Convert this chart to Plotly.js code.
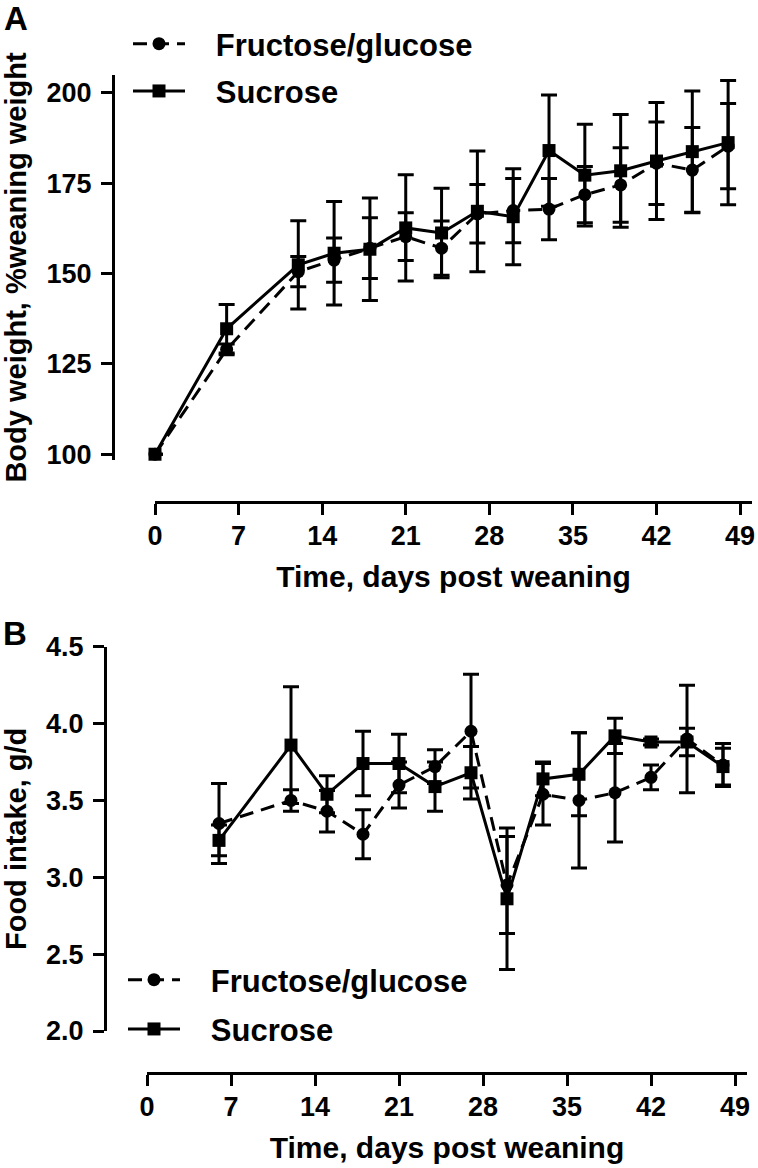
<!DOCTYPE html>
<html>
<head>
<meta charset="utf-8">
<script src="https://cdn.plot.ly/plotly-3.0.1.min.js"></script>
<style>html,body{margin:0;padding:0;background:#fff;}#chart{width:758px;height:1168px;}</style>
</head>
<body>
<div id="chart"></div>
<script>
// ---- Panel A: body weight (% of weaning weight) ----
var daysA = [0, 6, 12, 15, 18, 21, 24, 27, 30, 33, 36, 39, 42, 45, 48];
var fgWeight    = [100, 129.0, 150.5, 153.7, 157.0, 160.2, 157.0, 166.5, 167.4, 167.8, 171.8, 174.5, 180.5, 178.6, 185.2];
var fgWeightErr = [0,   1.5,   4.2,   6.1,   8.4,   6.6,   7.5,   8.1,   8.9,   8.5,   7.8,   10.3,  11.4,  11.8,  11.8];
var sucWeight    = [100, 134.7, 152.4, 155.6, 156.7, 162.6, 161.2, 167.2, 165.7, 184.0, 177.2, 178.4, 181.1, 183.7, 186.2];
var sucWeightErr = [0,   6.7,   12.2,  14.3,  14.2,  14.7,  12.4,  16.7,  13.3,  15.4,  14.1,  15.6,  16.2,  16.8,  17.2];

// ---- Panel B: food intake (g/d) ----
var daysB = [6, 12, 15, 18, 21, 24, 27, 30, 33, 36, 39, 42, 45, 48];
var fgIntake    = [3.35, 3.50, 3.43, 3.28, 3.60, 3.72, 3.95, 2.95, 3.54, 3.50, 3.55, 3.65, 3.90, 3.73];
var fgIntakeErr = [0.26, 0.07, 0.135, 0.16, 0.15, 0.11, 0.37, 0.315, 0.20, 0.44, 0.32, 0.08, 0.35, 0.14];
var sucIntake    = [3.24, 3.86, 3.54, 3.74, 3.74, 3.59, 3.68, 2.86, 3.64, 3.67, 3.92, 3.88, 3.88, 3.72];
var sucIntakeErr = [0.10, 0.38, 0.12, 0.21, 0.19, 0.16, 0.17, 0.46, 0.11, 0.27, 0.115, 0.02, 0.09, 0.12];

// ---- ticks and labels ----
var xTicks = [0, 7, 14, 21, 28, 35, 42, 49];
var yTicksA = [100, 125, 150, 175, 200];
var yTicksB = [2.0, 2.5, 3.0, 3.5, 4.0, 4.5];
var seriesNames = ['Fructose/glucose', 'Sucrose'];
var xTitle = 'Time, days post weaning';
var yTitleA = 'Body weight, %weaning weight';
var yTitleB = 'Food intake, g/d';

var W = 758, H = 1168;
function px(x) { return x / W; }
function py(y) { return 1 - y / H; }

var FONT = 'Liberation Sans, Arial, Helvetica, sans-serif';
var dashFG = '14px,8px';
var LEGPAD = '\u00a0\u00a0\u00a0';

function trace(x, y, err, name, isFG, xa, ya, leg) {
  return {
    x: x, y: y, name: LEGPAD + name, type: 'scatter', mode: 'lines+markers',
    xaxis: xa, yaxis: ya, legend: leg, legendgroup: leg + name,
    cliponaxis: false,
    line: {color: '#000', width: 3, dash: isFG ? dashFG : 'solid'},
    marker: {symbol: isFG ? 'circle' : 'square', size: 13, color: '#000'},
    error_y: {type: 'data', array: err, visible: true, color: '#000', thickness: 3, width: 8}
  };
}

var data = [
  trace(daysA, fgWeight, fgWeightErr, seriesNames[0], true, 'x', 'y', 'legend'),
  trace(daysA, sucWeight, sucWeightErr, seriesNames[1], false, 'x', 'y', 'legend'),
  trace(daysB, fgIntake, fgIntakeErr, seriesNames[0], true, 'x2', 'y2', 'legend2'),
  trace(daysB, sucIntake, sucIntakeErr, seriesNames[1], false, 'x2', 'y2', 'legend2')
];

var tickFont = {family: FONT, size: 27, color: '#000', weight: 'bold'};
var xTitleFont = {family: FONT, size: 30, color: '#000', weight: 'bold'};
var yTitleFont = {family: FONT, size: 29, color: '#000', weight: 'bold'};

function xAxis(domain, pos) {
  return {
    domain: domain, anchor: 'free', position: pos, range: [0, 50],
    tickvals: xTicks, ticktext: xTicks.map(String),
    showgrid: false, zeroline: false, showline: true, linecolor: '#000', linewidth: 3,
    ticks: 'outside', ticklen: 11, tickwidth: 3, tickcolor: '#000',
    tickfont: tickFont, ticklabelstandoff: -2,
    title: {text: xTitle, font: xTitleFont, standoff: 15}
  };
}
function yAxis(domain, pos, range, ticks, fmt, title) {
  return {
    domain: domain, anchor: 'free', position: pos, range: range,
    tickvals: ticks, tickformat: fmt,
    showgrid: false, zeroline: false, showline: true, linecolor: '#000', linewidth: 3,
    ticks: 'outside', ticklen: 11, tickwidth: 3, tickcolor: '#000',
    tickfont: tickFont, ticklabelstandoff: 4,
    title: {text: title, font: yTitleFont, standoff: 10}
  };
}

var legendBase = {
  font: {family: FONT, size: 31, color: '#000', weight: 'bold'},
  bgcolor: 'rgba(0,0,0,0)', borderwidth: 0, itemwidth: 52,
  traceorder: 'grouped', xanchor: 'left', yanchor: 'top',
  itemclick: false, itemdoubleclick: false
};

var layout = {
  width: W, height: H,
  margin: {l: 0, r: 0, t: 0, b: 0},
  paper_bgcolor: '#fff', plot_bgcolor: 'rgba(0,0,0,0)',
  showlegend: true,
  xaxis: xAxis([px(155), px(752)], py(501.7)),
  yaxis: yAxis([py(460), py(75)], px(113), [98.4, 204.9], yTicksA, 'd', yTitleA),
  xaxis2: xAxis([px(147), px(747)], py(1073)),
  yaxis2: yAxis([py(1031), py(646.7)], px(105), [2.0, 4.5], yTicksB, '.1f', yTitleB),
  legend: Object.assign({}, legendBase, {x: px(128), y: py(17), tracegroupgap: 4}),
  legend2: Object.assign({}, legendBase, {x: px(123), y: py(953), tracegroupgap: 6}),
  annotations: [
    {text: 'A', x: px(16), y: py(18), xref: 'paper', yref: 'paper', showarrow: false,
     font: {family: FONT, size: 33, color: '#000', weight: 'bold'}, xanchor: 'center', yanchor: 'middle'},
    {text: 'B', x: px(15), y: py(633), xref: 'paper', yref: 'paper', showarrow: false,
     font: {family: FONT, size: 33, color: '#000', weight: 'bold'}, xanchor: 'center', yanchor: 'middle'}
  ]
};

Plotly.newPlot('chart', data, layout, {staticPlot: true, displayModeBar: false});
</script>
</body>
</html>
